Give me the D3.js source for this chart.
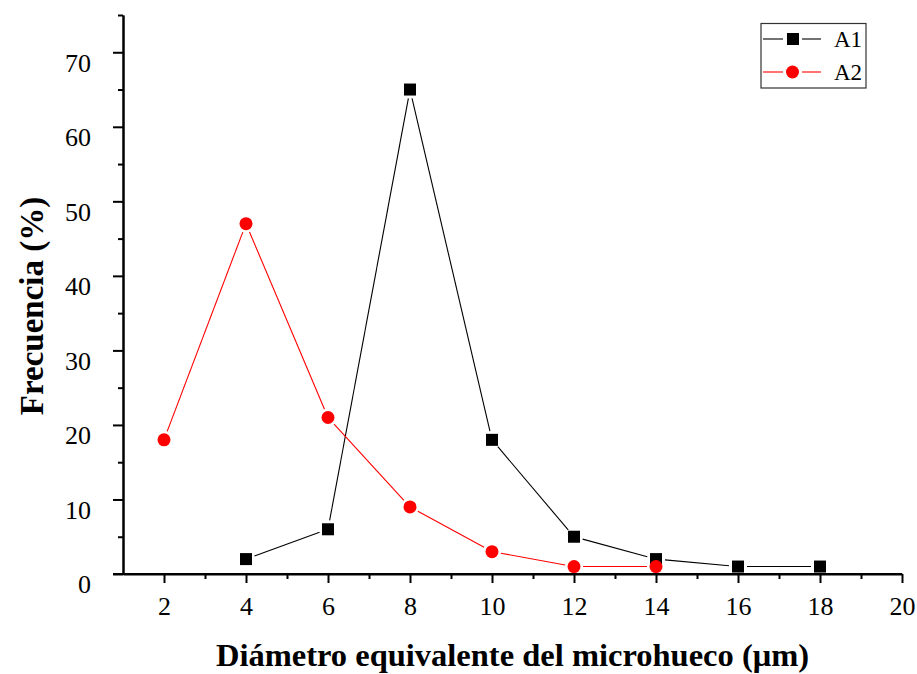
<!DOCTYPE html>
<html>
<head>
<meta charset="utf-8">
<script src="https://cdn.jsdelivr.net/npm/d3@7"></script>
<style>
  body { margin: 0; background: #fff; }
  svg { display: block; font-family: "Liberation Serif", "Times New Roman", serif; }
</style>
</head>
<body>
<svg></svg>
<script>
// canvas size
const w = 917;
const h = 674;

// chart data
const a1X = [4, 6, 8, 10, 12, 14, 16, 18];
const a1Y = [2, 6, 65, 18, 5, 2, 1, 1];
const a2X = [2, 4, 6, 8, 10, 12, 14];
const a2Y = [18, 47, 21, 9, 3, 1, 1];
const xTicks = [2, 4, 6, 8, 10, 12, 14, 16, 18, 20];
const yTicks = [0, 10, 20, 30, 40, 50, 60, 70];
const seriesNames = ["A1", "A2"];

const svg = d3.select("svg")
              .attr("width", w)
              .attr("height", h);

// scales
const xScale = d3.scaleLinear()
                 .domain([1, 20])
                 .range([123, 902]);

const yScale = d3.scaleLinear()
                 .domain([0, 75])
                 .range([574, 15]);

// x axis: major ticks on even numbers, minor on odd
const xAxis = d3.axisBottom(xScale)
                .tickValues(xTicks)
                .tickSize(9)
                .tickPadding(14)
                .tickSizeOuter(0);

const xMinor = d3.axisBottom(xScale)
                 .tickValues(d3.range(3, 20, 2))
                 .tickSize(5)
                 .tickFormat("")
                 .tickSizeOuter(0);

const yAxis = d3.axisLeft(yScale)
                .tickValues(yTicks)
                .tickSize(10)
                .tickPadding(22)
                .tickSizeOuter(0);

const yMinor = d3.axisLeft(yScale)
                 .tickValues(d3.range(5, 80, 10))
                 .tickSize(5)
                 .tickFormat("")
                 .tickSizeOuter(0);

const gx = svg.append("g")
              .attr("transform", "translate(0," + yScale(0) + ")")
              .call(xAxis);
svg.append("g")
   .attr("transform", "translate(0," + yScale(0) + ")")
   .call(xMinor);

const gy = svg.append("g")
              .attr("transform", "translate(" + xScale(1) + ",0)")
              .call(yAxis);
svg.append("g")
   .attr("transform", "translate(" + xScale(1) + ",0)")
   .call(yMinor);

// axis styling
svg.selectAll(".domain").attr("stroke", "#000").attr("stroke-width", 2);
svg.selectAll(".tick line").attr("stroke", "#000").attr("stroke-width", 2);
gx.selectAll(".tick text")
  .attr("font-size", 26)
  .attr("font-family", "Liberation Serif")
  .attr("fill", "#000");
gy.selectAll(".tick text")
  .attr("font-size", 26)
  .attr("font-family", "Liberation Serif")
  .attr("fill", "#000")
  .attr("dy", "0.72em");

// x domain extends left to the y-axis tick length
gx.select(".domain").attr("d", "M" + (xScale(1) - 10) + ",0H" + xScale(20));

// axis titles
svg.append("text")
   .attr("x", (xScale(1) + xScale(20)) / 2)
   .attr("y", 666)
   .attr("text-anchor", "middle")
   .attr("font-size", 32.5)
   .attr("font-weight", "bold")
   .text("Diámetro equivalente del microhueco (μm)");

svg.append("text")
   .attr("transform", "translate(43," + 306 + ") rotate(-90)")
   .attr("text-anchor", "middle")
   .attr("font-size", 33)
   .attr("font-weight", "bold")
   .text("Frecuencia (%)");

// draw line with gaps around markers
function drawGappedLine(xs, ys, color, gap) {
  const pts = xs.map((x, i) => [xScale(x), yScale(ys[i])]);
  for (let i = 0; i < pts.length - 1; i++) {
    const [x1, y1] = pts[i];
    const [x2, y2] = pts[i + 1];
    const len = Math.hypot(x2 - x1, y2 - y1);
    if (len <= 2 * gap) continue;
    const ux = (x2 - x1) / len;
    const uy = (y2 - y1) / len;
    svg.append("line")
       .attr("x1", x1 + ux * gap)
       .attr("y1", y1 + uy * gap)
       .attr("x2", x2 - ux * gap)
       .attr("y2", y2 - uy * gap)
       .attr("stroke", color)
       .attr("stroke-width", 1.1);
  }
}

// series A1
drawGappedLine(a1X, a1Y, "#000", 9);
svg.selectAll(".a1")
   .data(a1X)
   .enter()
   .append("rect")
   .attr("class", "a1")
   .attr("x", (d) => xScale(d) - 6)
   .attr("y", (d, i) => yScale(a1Y[i]) - 6)
   .attr("width", 12)
   .attr("height", 12)
   .attr("fill", "#000");

// series A2
drawGappedLine(a2X, a2Y, "#ff0000", 9);
svg.selectAll(".a2")
   .data(a2X)
   .enter()
   .append("circle")
   .attr("class", "a2")
   .attr("cx", (d) => xScale(d))
   .attr("cy", (d, i) => yScale(a2Y[i]))
   .attr("r", 6.5)
   .attr("fill", "#ff0000");

// legend
const legend = svg.append("g");
legend.append("rect")
      .attr("x", 761)
      .attr("y", 23.5)
      .attr("width", 105)
      .attr("height", 64.5)
      .attr("fill", "none")
      .attr("stroke", "#333")
      .attr("stroke-width", 1.2);

const legendColors = ["#000", "#ff0000"];
seriesNames.forEach((name, i) => {
  const cy = 39 + i * 33;
  legend.append("line")
        .attr("x1", 763).attr("x2", 783)
        .attr("y1", cy).attr("y2", cy)
        .attr("stroke", legendColors[i]).attr("stroke-width", 1.1);
  legend.append("line")
        .attr("x1", 802).attr("x2", 821)
        .attr("y1", cy).attr("y2", cy)
        .attr("stroke", legendColors[i]).attr("stroke-width", 1.1);
  if (i === 0) {
    legend.append("rect")
          .attr("x", 787).attr("y", cy - 6)
          .attr("width", 12).attr("height", 12)
          .attr("fill", "#000");
  } else {
    legend.append("circle")
          .attr("cx", 792.5).attr("cy", cy)
          .attr("r", 6.5)
          .attr("fill", "#ff0000");
  }
  legend.append("text")
        .attr("x", 834)
        .attr("y", cy + 8)
        .attr("font-size", 23)
        .text(name);
});
</script>
</body>
</html>
